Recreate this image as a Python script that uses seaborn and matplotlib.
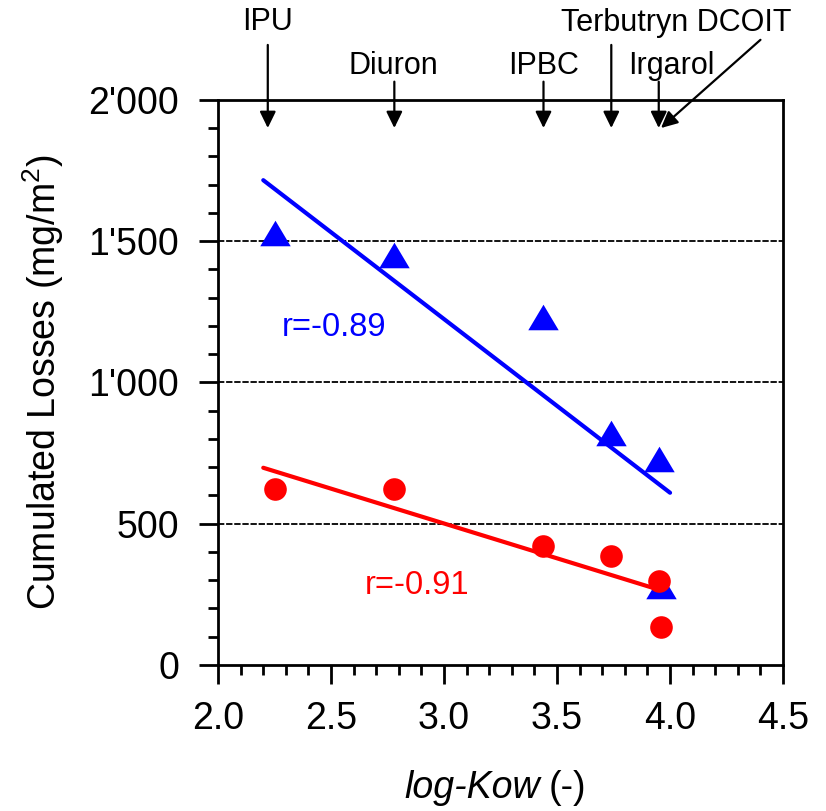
import numpy as np
import pandas as pd
import matplotlib.pyplot as plt
from matplotlib.path import Path
from matplotlib.ticker import MultipleLocator, FuncFormatter
import seaborn as sns

# values
compounds = ["IPU", "Diuron", "IPBC", "Terbutryn", "Irgarol", "DCOIT"]
log_kow = [2.25, 2.78, 3.44, 3.74, 3.95, 3.96]
losses_tri = [1530, 1450, 1233, 820, 728, 280]   # blue triangles
losses_dot = [622, 622, 421, 384, 298, 135]      # red circles
fit_range = [2.2, 4.0]

sns.set_theme(style="white")
plt.rcParams["font.family"] = ["Liberation Sans", "DejaVu Sans"]
plt.rcParams["mathtext.fontset"] = "custom"
plt.rcParams["mathtext.rm"] = "Liberation Sans"
plt.rcParams["mathtext.it"] = "Liberation Sans:italic"
for k in ("text.color", "axes.labelcolor", "xtick.color", "ytick.color",
          "xtick.labelcolor", "ytick.labelcolor"):
    plt.rcParams[k] = "black"

df = pd.DataFrame({"compound": compounds, "logkow": log_kow,
                   "tri": losses_tri, "dot": losses_dot})

fig, ax = plt.subplots(figsize=(8.26, 8.11), dpi=100)
fig.subplots_adjust(left=0.264, right=0.948, bottom=0.180, top=0.877)

# dotted reference lines
for yv in (500, 1000, 1500):
    ax.axhline(yv, color="black", lw=1.3, ls=(0, (3.5, 1)), zorder=1)

# flattened triangle marker
tri = Path([(0, 0.84), (-1, -0.84), (1, -0.84), (0, 0.84)], closed=True)

fx = np.array(fit_range)
for col, color, marker, size in [("tri", "#0000ff", tri, 480), ("dot", "#ff0000", "o", 265)]:
    slope, icpt = np.polyfit(df["logkow"], df[col], 1)
    sns.lineplot(x=fx, y=slope * fx + icpt, color=color, lw=3, ax=ax, zorder=2)
    sns.scatterplot(data=df, x="logkow", y=col, color=color, marker=marker,
                    s=size, linewidth=0, ax=ax, zorder=3)

r_tri = np.corrcoef(df["logkow"], df["tri"])[0, 1]
r_dot = np.corrcoef(df["logkow"], df["dot"])[0, 1]
ax.text(2.513, 1163, f"r={r_tri:.2f}", color="#0000ff", fontsize=23.5, ha="center", va="baseline")
ax.text(2.88, 251, f"r={r_dot:.2f}", color="#ff0000", fontsize=23.5, ha="center", va="baseline")

# compound arrows on top
trans = ax.get_xaxis_transform()
arrow_kw = dict(arrowstyle="-|>,head_length=0.45,head_width=0.22", color="black",
                lw=1.6, mutation_scale=22, shrinkA=0, shrinkB=0)
tails = {"IPU": (2.22, 1.097), "Diuron": (2.78, 1.032), "IPBC": (3.44, 1.032),
         "Terbutryn": (3.74, 1.097), "Irgarol": (3.95, 1.032), "DCOIT": (4.40, 1.106)}
heads = {"IPU": 2.22, "Diuron": 2.78, "IPBC": 3.44, "Terbutryn": 3.74,
         "Irgarol": 3.95, "DCOIT": 3.96}
for c in compounds:
    ax.annotate("", xy=(heads[c], 0.95), xycoords=trans,
                xytext=tails[c], textcoords=trans, arrowprops=arrow_kw)

top_labels = [("IPU", 2.22, 1.138), ("Diuron", 2.775, 1.06), ("IPBC", 3.44, 1.06),
              ("Irgarol", 4.005, 1.06), ("Terbutryn DCOIT", 4.027, 1.136)]
for txt, lx, ly in top_labels:
    ax.text(lx, ly, txt, transform=trans, fontsize=22, ha="center", va="center")

ax.set_xlim(2.0, 4.5)
ax.set_ylim(0, 2000)
ax.xaxis.set_major_locator(MultipleLocator(0.5))
ax.xaxis.set_minor_locator(MultipleLocator(0.1))
ax.yaxis.set_major_locator(MultipleLocator(500))
ax.yaxis.set_minor_locator(MultipleLocator(100))
ax.xaxis.set_major_formatter(FuncFormatter(lambda v, p: f"{v:.1f}"))
ax.yaxis.set_major_formatter(FuncFormatter(lambda v, p: f"{v:,.0f}".replace(",", "'")))
ax.tick_params(which="major", direction="out", length=14, width=2, labelsize=27, color="black")
ax.tick_params(which="minor", direction="out", length=7.5, width=2, color="black")
ax.tick_params(axis="y", which="major", pad=14)
ax.tick_params(axis="x", which="major", pad=12)
ax.tick_params(axis="both", which="both", bottom=True, left=True)
for s in ax.spines.values():
    s.set_linewidth(2)
    s.set_color("black")

ax.set_xlabel("")
ax.set_ylabel("Cumulated Losses (mg/m$^2$)", fontsize=27, labelpad=16)

xl = ax.text(0.57, -0.25, "log-Kow", transform=ax.transAxes, fontsize=27,
             style="italic", ha="right", va="bottom")
ax.annotate("(-)", xy=(1, 0), xycoords=xl, xytext=(6, 0), textcoords="offset points",
            fontsize=27, ha="left", va="bottom")

plt.savefig("out.png", dpi=100)
